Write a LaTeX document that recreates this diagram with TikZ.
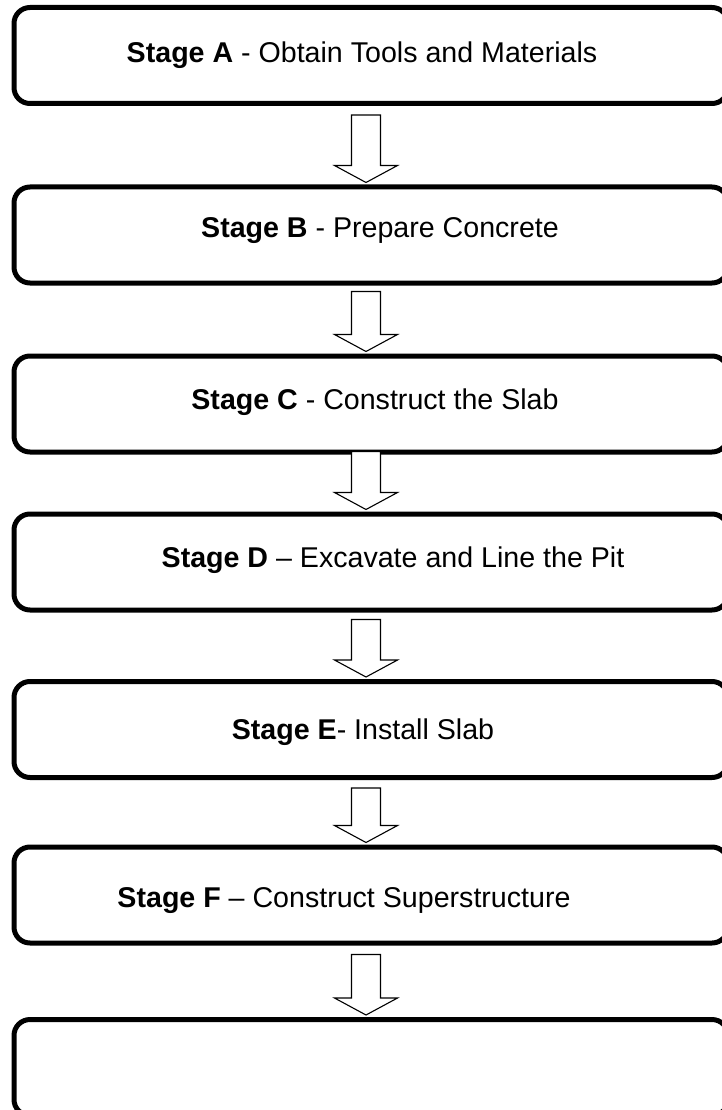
\documentclass[tikz,border=0pt]{standalone}
\usepackage{fontspec}
\setmainfont{Liberation Sans}
\usetikzlibrary{calc}
\tikzset{
	stagebox/.style={draw, line width=5pt, rounded corners=16pt, minimum width=714pt, minimum height=96pt, inner sep=0pt},
	stagetext/.style={font=\fontsize{28.6}{34}\selectfont, inner sep=0pt},
	flowarrow/.style={draw, line width=1.1pt, fill=white, line join=miter}
}
% block arrow from box #1 down to box #2, shaft starts #3 below #1
\newcommand{\stagearrow}[3]{%
	\draw[flowarrow] let \p1=(#1.south), \p2=(#2.north) in
	({\xarr pt-14.5pt},{\y1-#3pt})--({\xarr pt+14.5pt},{\y1-#3pt})--({\xarr pt+14.5pt},{\y2+19pt})
	--({\xarr pt+31.5pt},{\y2+19pt})--({\xarr pt},{\y2+2pt})--({\xarr pt-31.5pt},{\y2+19pt})
	--({\xarr pt-14.5pt},{\y2+19pt})--cycle;}
\begin{document}
\begin{tikzpicture}[x=1pt, y=-1pt, line join=round]
	\def\xarr{366}
	\fill[white] (0,0) rectangle (722,1110);
	\useasboundingbox (0,0) rectangle (722,1110);
	\foreach \stg/\yc in {A/55.5, B/235, C/404, D/562, E/729.5, F/895, G/1067.5}
		\node[stagebox] (\stg) at (371,\yc) {};
	\foreach \stg/\dx/\dy/\txt in {A/-9/0/{\textbf{Stage A} - Obtain Tools and Materials},
		B/9/-4/{\textbf{Stage B} - Prepare Concrete},
		C/4/-2/{\textbf{Stage C} - Construct the Slab},
		D/22/-2/{\textbf{Stage D} -- Excavate and Line the Pit},
		E/-8/3/{\textbf{Stage E}- Install Slab},
		F/-27/6/{\textbf{Stage F} -- Construct Superstructure}}
		\node[stagetext] (t\stg) at ([xshift=\dx pt, yshift=-\dy pt]\stg.center) {\txt};
	\foreach \from/\to/\gap in {A/B/9, B/C/6, C/D/-3, D/E/7, E/F/8, F/G/9}
		{\stagearrow{\from}{\to}{\gap}}
\end{tikzpicture}
\end{document}
